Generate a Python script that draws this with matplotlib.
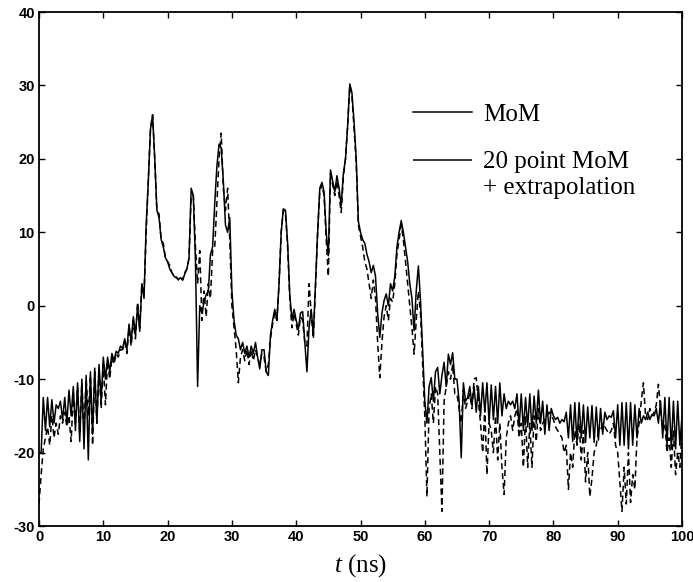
import numpy as np
import matplotlib
matplotlib.use("Agg")
import matplotlib.pyplot as plt
from matplotlib.lines import Line2D

plt.rcParams['mathtext.fontset'] = 'custom'
plt.rcParams['mathtext.it'] = 'Liberation Serif:italic'
plt.rcParams['mathtext.rm'] = 'Liberation Serif'
plt.rcParams['axes.unicode_minus'] = False

# time samples: 0 .. 100 ns, step 1/3 ns
t = np.linspace(0, 100, 301)

# MoM (solid), read per 10 ns segment
mom_00 = [-20, -20, -12.5, -17, -12.5, -16.5, -12.8, -16, -13.5, -14, -13, -15.5, -12.5, -16, -11.5,
          -15, -11, -17, -10.5, -18.5, -10, -19.5, -9.5, -21, -9, -17.5, -8.5, -16, -8, -13]
mom_10 = [-7, -10, -7, -9, -6.5, -7.5, -6.2, -6.5, -5.5, -5.8, -4.5, -6, -2.5, -5, -1.5,
          -4, 0, -3.5, 3, 1, 11, 17, 24, 26, 20, 13, 12, 9, 8, 6.5]
mom_20 = [6, 5, 4.5, 4, 3.8, 3.6, 3.8, 3.5, 4.3, 5, 6.5, 16, 15, 6, -11,
          0, -1, 0.5, 1.5, 2, 7, 8, 14, 19, 22, 21.5, 17, 11, 10, 12]
mom_30 = [2, -2, -4, -4.5, -6, -5, -6.5, -5.5, -7, -5.5, -6.5, -5, -7, -8.6, -6,
          -6, -9, -9.5, -4, -2, -0.5, -2, 3, 10, 13.2, 13, 8.5, 1.5, -1.8, -0.5]
mom_40 = [-2, -3.2, -1, -0.8, -5, -9, -3, -0.5, -4, 3, 10, 16, 16.8, 15.5, 10,
          6.8, 18.5, 17, 15.5, 17.7, 16, 13.6, 18, 20, 24.5, 30.2, 29, 25, 20, 11.5]
mom_50 = [10, 9, 8.5, 7, 6, 4.5, 5.5, 4, -1, -4.3, -1, 0.7, 1.6, 0, 3,
          2, 4, 8, 10, 11.6, 10, 8, 6, 3, 1, -3.4, 2, 5.4, 0.7, -6]
mom_60 = [-13, -16, -11, -9.8, -13, -9, -8.4, -12, -9.5, -7.7, -11, -6.6, -8, -6.4, -10,
          -10, -13, -20.7, -10.5, -13, -12.5, -11, -13.5, -11, -14.5, -11, -15, -10.5, -14.5, -10.5]
mom_70 = [-16, -10.8, -15.5, -11, -16, -10.5, -15, -12, -14, -13, -13.5, -13, -14, -12, -16.5,
          -12, -17, -12.5, -16.5, -12, -17, -12.3, -16, -11.5, -16, -13, -17.5, -13.5, -17, -14]
mom_80 = [-15, -15.5, -15.2, -16, -15.5, -15.8, -14.5, -18, -13.5, -18.5, -13.2, -18.6, -13.2, -18, -13.5,
          -18.6, -13.8, -18, -13.6, -18.6, -13.8, -18.3, -14, -17.5, -14.5, -15.5, -15, -15.2, -14.3, -18]
mom_90 = [-13.5, -19, -13.2, -19, -13.2, -19.5, -13.2, -19, -13.5, -18, -14, -16, -15, -15.5, -14.5,
          -15.5, -14.8, -15, -14, -16, -13, -18, -12.5, -19, -12.5, -19.5, -13, -19.5, -13, -19, -15]

# 20 point MoM + extrapolation (dashed)
ext_00 = [-27, -23, -19.5, -18, -16.5, -19, -15, -18, -16, -17.5, -15, -16, -14.5, -16.5, -15,
          -18.5, -12, -16, -11, -17.5, -10.5, -17, -10, -15, -9.5, -19, -9, -16, -8.5, -14]
ext_10 = [-8, -13.5, -7.5, -10, -7, -8, -6.5, -7, -6, -6, -5, -6.5, -3, -5.5, -2,
          -4.5, 0.5, -3, 3, 1.5, 10, 17, 24, 26, 20, 13, 12.5, 9, 8.5, 6.5]
ext_20 = [6, 5.5, 4.5, 4, 4, 3.5, 4, 3.5, 4.5, 5, 6.5, 15, 15, 8, 3,
          7.5, -2, 2, -1.5, 3, 1, 7.5, 8, 14, 20, 23.5, 16, 13, 16, 9]
ext_30 = [0, -3, -6, -10.5, -7, -6, -7.5, -6, -8, -6, -7.5, -6, -7, -8, -6.5,
          -7, -9, -8, -4.5, -2.5, -1, -2, 3, 10, 13, 12.5, 8, 1, -3, -1]
ext_40 = [-2.5, -4, -1.5, -2, -5, -5.5, 3, -1, -4.5, 2.5, 10, 15.5, 16.5, 15, 9,
          4, 18, 16.5, 15, 17, 15, 12.7, 17.5, 20, 24.5, 30, 28.6, 24, 19.5, 11]
ext_50 = [9.5, 8, 6, 5, 3, 1, 3.5, 1, -5, -9.8, -5, -1.5, 0, -2, 1,
          0.5, 3, 7, 9, 11, 9, 6, 3, 0, -3, -6.6, -2, 2, -1, -8]
ext_60 = [-15, -26, -14, -12, -16, -11, -12, -20, -28, -13, -11, -9, -10, -8, -12,
          -12, -14, -16, -11.5, -14, -13, -12, -14, -10, -9.8, -13, -16, -20, -14, -23]
ext_70 = [-16, -17, -20, -15, -21, -16, -22, -25.7, -18, -16, -15, -17, -15, -14, -18,
          -16, -22, -15, -22, -16, -22, -15, -18.5, -14, -17, -16, -15.5, -15, -14.5, -15]
ext_80 = [-15.5, -16.5, -17, -17.5, -18, -20, -19, -25, -20, -22, -17, -19, -16, -21, -17,
          -24, -20, -26, -23.5, -20, -19, -17, -17, -16, -16.5, -17, -17.5, -17, -16, -19]
ext_90 = [-20, -24, -28, -22, -27, -20, -26.8, -23, -25, -18, -16, -13, -10.5, -15, -15.5,
          -14, -15, -14.5, -13.5, -10.7, -14, -17, -16, -20, -18, -22, -17, -23, -20, -22, -17]

mom = np.array(mom_00 + mom_10 + mom_20 + mom_30 + mom_40 + mom_50 + mom_60 + mom_70 + mom_80 + mom_90)
ext = np.array(ext_00 + ext_10 + ext_20 + ext_30 + ext_40 + ext_50 + ext_60 + ext_70 + ext_80 + ext_90)

x_ticks = [0, 10, 20, 30, 40, 50, 60, 70, 80, 90, 100]
y_ticks = [-30, -20, -10, 0, 10, 20, 30, 40]
legend_labels = ["MoM", "20 point MoM", "+ extrapolation"]

fig = plt.figure(figsize=(6.93, 5.82), dpi=100)
ax = fig.add_axes([39/693, 1-526/582, (682-39)/693, (526-12)/582])

ax.plot(t, ext, color='black', lw=1.1, linestyle=(0, (4, 2.5)))
ax.plot(t, mom, color='black', lw=1.1)

ax.set_xlim(0, 100)
ax.set_ylim(-30, 40)
ax.set_xticks(x_ticks)
ax.set_yticks(y_ticks)
ax.tick_params(direction='in', length=4, width=1, top=True, right=True, pad=3,
               labelsize=10.5)
for lab in ax.get_xticklabels() + ax.get_yticklabels():
    lab.set_fontfamily('Liberation Sans')
    lab.set_fontweight('bold')
for s in ax.spines.values():
    s.set_linewidth(1.3)

ax.set_xlabel("$t$ (ns)", fontfamily='Liberation Serif', fontsize=18, labelpad=6)

# legend (drawn as in the original figure, without frame)
fig.add_artist(Line2D([413/693, 472/693], [1-112/582, 1-112/582], color='black', lw=1.1))
fig.add_artist(Line2D([413/693, 472/693], [1-160/582, 1-160/582], color='black', lw=1.1,
                      linestyle=(0, (100, 1))))
fs = 18
fig.text(483/693, 1-121/582, legend_labels[0], fontfamily='Liberation Serif', fontsize=fs, va='baseline')
fig.text(483/693, 1-168/582, legend_labels[1], fontfamily='Liberation Serif', fontsize=fs, va='baseline')
fig.text(483/693, 1-194/582, legend_labels[2], fontfamily='Liberation Serif', fontsize=fs, va='baseline')

fig.savefig("out.png", dpi=100)
